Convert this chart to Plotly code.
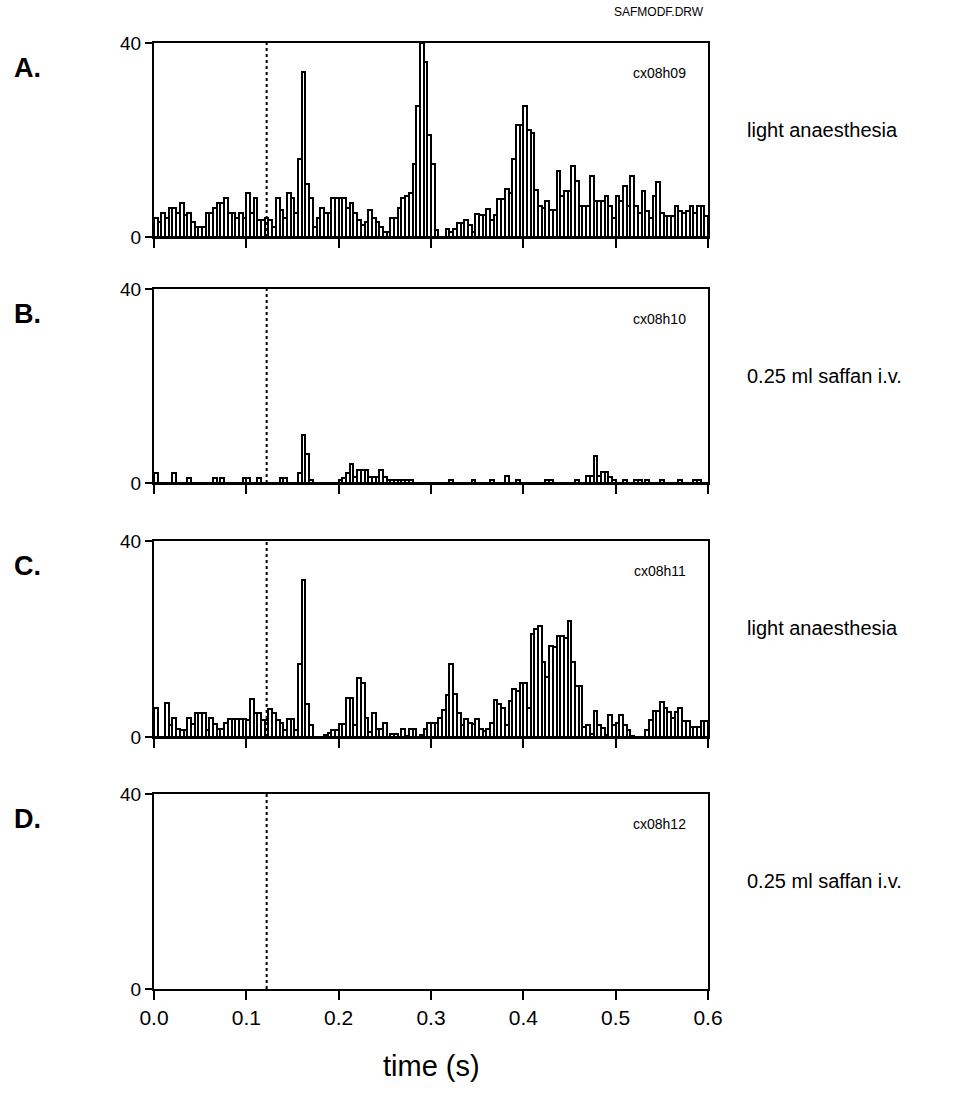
import numpy as np
import plotly.graph_objects as go

# ---------------- data ----------------
bin_width = 0.004
n_bins = 150
bin_centers = [round(i * bin_width + bin_width / 2, 4) for i in range(n_bins)]
stim_time = 0.122

A_counts = [
    4, 3, 5, 4, 6, 6, 5, 7, 4.5, 5,
    3, 2, 2, 2, 5, 5, 6, 7, 7, 8,
    5, 5, 4, 5, 4, 9, 5, 8, 3.5, 3.5,
    4, 3.5, 2, 8, 5.5, 4, 9, 8, 5, 16,
    34, 11, 8, 2, 4, 6, 5, 5, 8, 8,
    8, 8, 6, 7, 5, 3.5, 2.5, 3, 5.5, 4,
    3, 2, 1, 1, 4, 4, 6, 8, 8.5, 9,
    15, 27, 40, 36, 21, 15, 1.5, 0, 0, 1.6,
    1, 1.6, 2.8, 2.8, 3.6, 2.5, 1, 4.8, 4.6, 4.6,
    5.7, 3.6, 4.6, 7.9, 7.9, 9.8, 9, 16, 23, 23,
    27, 22, 21.5, 9.6, 6.4, 6, 7.4, 5.5, 5.5, 13.6,
    8.5, 9.4, 9.4, 14.6, 11.5, 6.4, 6.4, 6.4, 12.6, 7.4,
    7.4, 7.4, 8.4, 6.4, 4, 8.4, 7.4, 10.5, 6.4, 12.6,
    6.4, 5, 9.4, 5.3, 4, 8.4, 11.4, 5, 4.3, 4.3,
    4.3, 6.4, 5.3, 5, 5.3, 6.4, 5, 6.4, 6.4, 4.3,
]

B_counts = [
    2, 0, 0, 0, 0, 2, 0, 0, 0, 1,
    0, 0, 0, 0, 0, 0, 1, 0, 1, 0,
    0, 0, 0, 0, 1, 1, 0, 0, 1, 0,
    0, 0, 0, 0, 1, 1, 0, 0, 0, 2,
    10, 6, 0.7, 0, 0, 0, 0, 0, 0, 0,
    0.7, 1, 2, 4, 1.2, 2.7, 2.7, 2.7, 1.2, 1.2,
    1.2, 2.7, 1.2, 0.7, 0.7, 0.7, 0.7, 0.7, 0.7, 0.7,
    0, 0, 0, 0, 0, 0, 0, 0, 0, 0,
    0.7, 0, 0, 0, 0, 0, 0.7, 0, 0, 0,
    0, 0.7, 0, 0, 0, 1.5, 0, 0, 0.7, 0,
    0, 0, 0, 0, 0, 0, 0.7, 0.7, 0, 0,
    0, 0, 0, 0, 0.7, 0, 0, 1.5, 1.5, 5.5,
    1.5, 2.2, 2.2, 1.2, 0.7, 0, 0, 0.7, 0, 0,
    0.7, 0.7, 0, 0.7, 0, 0, 0, 0.7, 0, 0,
    0, 0, 0.7, 0, 0, 0, 0.7, 0.7, 0, 0,
]

C_counts = [
    6, 0, 0, 7, 2.4, 3.8, 1.7, 1.4, 1.4, 3.8,
    2.6, 5, 5, 5, 1.4, 3.8, 2.6, 1.7, 1.7, 2.9,
    3.6, 3.6, 3.6, 3.6, 3.6, 3.4, 7.7, 4.8, 4.8, 3.4,
    3.4, 5.7, 5, 3.4, 2.8, 1.4, 3.6, 3.6, 1.4, 15,
    32, 6.7, 2.4, 0, 0, 0, 0.4, 0.9, 1.5, 1.5,
    2.6, 2.6, 8, 8, 2.4, 12, 11, 3.8, 1, 4.8,
    1.7, 1.7, 2.9, 0, 0.7, 0.7, 0, 1.7, 0.3, 1.7,
    1.7, 0, 0.5, 1.7, 2.8, 2.8, 2.8, 3.8, 5.5, 8.6,
    15, 8.8, 4.8, 2.4, 3.6, 2.8, 2.6, 3.6, 1.6, 1.2,
    1.7, 2.8, 7.6, 6.8, 5.9, 2.4, 7.4, 9.7, 9.3, 11,
    11, 6, 21, 22, 22.7, 15.4, 12.3, 18.6, 18.3, 20.6,
    20.6, 20.3, 23.7, 15.4, 10.5, 10.5, 2, 2.4, 0.7, 5.3,
    2.4, 1.9, 0.5, 4.5, 2.4, 2.8, 4.5, 2.4, 1.4, 0.3,
    0.1, 0.1, 0, 1.4, 3.4, 5.3, 5.3, 7.2, 5.9, 5.2,
    3.9, 5.2, 5.9, 3.2, 3.2, 2, 2, 2, 3.2, 3.2,
]

panel_letters = ["A.", "B.", "C.", "D."]
panel_ids = ["cx08h09", "cx08h10", "cx08h11", "cx08h12"]
conditions = ["light anaesthesia", "0.25 ml saffan i.v.",
              "light anaesthesia", "0.25 ml saffan i.v."]
panel_data = [A_counts, B_counts, C_counts, None]
x_ticks = [0.0, 0.1, 0.2, 0.3, 0.4, 0.5, 0.6]
x_tick_text = ["0.0", "0.1", "0.2", "0.3", "0.4", "0.5", "0.6"]
y_ticks = [0, 40]

# ---------------- layout geometry (pixels) ----------------
W, H = 972, 1096
x_left_px, x_right_px = 154, 708
panel_px = [(43, 237), (289, 483), (541, 737), (794, 989)]  # (top, bottom)

FONT = "Liberation Sans, Arial, Helvetica, sans-serif"

fig = go.Figure()
layout = dict(
    width=W, height=H, autosize=False,
    margin=dict(l=0, r=0, t=0, b=0, pad=0, autoexpand=False),
    paper_bgcolor="white", plot_bgcolor="white",
    showlegend=False, bargap=0,
    font=dict(family=FONT, color="black"),
)

annotations = []
shapes = []
for k in range(4):
    top, bot = panel_px[k]
    xa = "xaxis" if k == 0 else f"xaxis{k+1}"
    ya = "yaxis" if k == 0 else f"yaxis{k+1}"
    xr = "x" if k == 0 else f"x{k+1}"
    yr = "y" if k == 0 else f"y{k+1}"
    layout[xa] = dict(
        domain=[x_left_px / W, x_right_px / W], range=[0, 0.6],
        anchor=yr, showline=True, linecolor="black", linewidth=2, mirror=True,
        ticks="outside", ticklen=9, tickwidth=2, tickcolor="black",
        tickvals=x_ticks, ticktext=x_tick_text, automargin=False,
        showticklabels=(k == 3), tickfont=dict(size=21, family=FONT),
        showgrid=False, zeroline=False, fixedrange=True,
    )
    layout[ya] = dict(
        domain=[1 - bot / H, 1 - top / H], range=[0, 40],
        anchor=xr, showline=True, linecolor="black", linewidth=2, mirror=True,
        ticks="outside", ticklen=7, tickwidth=2, tickcolor="black",
        tickvals=y_ticks, tickfont=dict(size=19, family=FONT), automargin=False,
        showgrid=False, zeroline=False, fixedrange=True,
    )
    if panel_data[k] is not None:
        fig.add_trace(go.Bar(
            x=bin_centers, y=panel_data[k], width=bin_width,
            marker=dict(color="white", line=dict(color="black", width=2)),
            xaxis=xr, yaxis=yr,
        ))
    shapes.append(dict(type="line", xref=xr, yref=yr,
                       x0=stim_time, x1=stim_time, y0=0, y1=40,
                       line=dict(color="black", width=2, dash="dot")))
    annotations.append(dict(
        xref="paper", yref="paper", x=12 / W, y=1 - (top + 25) / H,
        text=f"<b>{panel_letters[k]}</b>", showarrow=False,
        xanchor="left", yanchor="middle", font=dict(size=27, family=FONT)))
    annotations.append(dict(
        xref="paper", yref="paper", x=688 / W, y=1 - (top + 30) / H,
        text=panel_ids[k], showarrow=False,
        xanchor="right", yanchor="middle", font=dict(size=14, family=FONT)))
    annotations.append(dict(
        xref="paper", yref="paper", x=745 / W, y=1 - (top + 87) / H,
        text=conditions[k], showarrow=False,
        xanchor="left", yanchor="middle", font=dict(size=20, family=FONT)))

annotations.append(dict(
    xref="paper", yref="paper", x=706 / W, y=1 - 12 / H,
    text="SAFMODF.DRW", showarrow=False,
    xanchor="right", yanchor="middle", font=dict(size=12, family=FONT)))
annotations.append(dict(
    xref="paper", yref="paper", x=(x_left_px + x_right_px) / 2 / W, y=1 - 1066 / H,
    text="time (s)", showarrow=False,
    xanchor="center", yanchor="middle", font=dict(size=29, family=FONT)))

layout["annotations"] = annotations
layout["shapes"] = shapes
fig.update_layout(**layout)
fig.write_html(
    "out.html",
    config={"responsive": False, "displayModeBar": False},
    post_script="document.body.style.margin='0px';document.body.style.overflow='hidden';",
)
